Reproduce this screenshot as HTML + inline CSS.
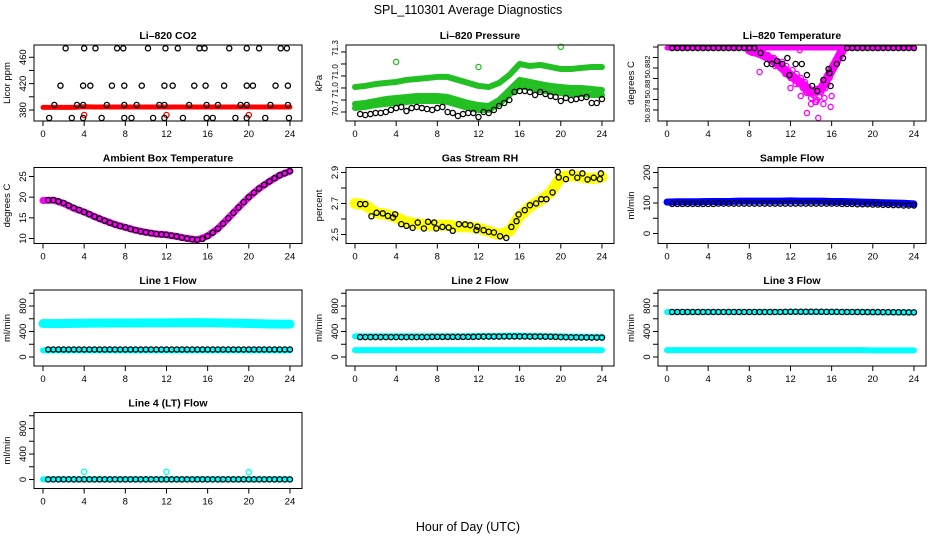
<!DOCTYPE html>
<html><head><meta charset="utf-8"><style>
html,body{margin:0;padding:0;background:#fff}
svg{display:block;font-family:"Liberation Sans",Arial,sans-serif}
</style></head><body>
<svg id="chart" width="936" height="540" viewBox="0 0 936 540" xmlns="http://www.w3.org/2000/svg">
<rect width="936" height="540" fill="#fff"/>
<text x="468" y="14" text-anchor="middle" font-size="12.5">SPL_110301  Average Diagnostics</text>
<text x="468" y="531" text-anchor="middle" font-size="12.5">Hour of Day (UTC)</text>
</svg>
<script>
// ---- shared x positions ----
const HOURS = [0,1,2,3,4,5,6,7,8,9,10,11,12,13,14,15,16,17,18,19,20,21,22,23,24];
const HH = [0.5,1,1.5,2,2.5,3,3.5,4,4.5,5,5.5,6,6.5,7,7.5,8,8.5,9,9.5,10,10.5,11,11.5,12,12.5,13,13.5,14,14.5,15,15.5,16,16.5,17,17.5,18,18.5,19,19.5,20,20.5,21,21.5,22,22.5,23,23.5,24];
const xTicks = [0,4,8,12,16,20,24];
const OUT_X = [4,12,20];

// ---- Li-820 CO2 ----
const co2BlackX = [2.2,4.0,5.1,7.2,7.8,10.2,11.9,13.1,15.2,15.7,18.1,19.8,21.0,23.1,23.7, 1.7,3.9,4.6,6.7,7.9,9.6,11.8,12.6,14.7,15.8,17.6,19.8,20.4,22.6,23.8, 1.1,3.3,3.9,6.2,7.9,9.1,11.3,11.8,14.2,15.9,17.0,19.2,19.8,22.1,23.8, 0.6,2.8,3.9,5.7,7.9,8.6,10.7,11.8,13.6,15.9,16.5,18.7,19.8,21.6,23.9];
const co2BlackY = [473.6,473.6,473.6,473.6,473.6,473.6,473.6,473.6,473.6,473.6,473.6,473.6,473.6,473.6,473.6, 416.9,416.9,416.9,416.9,416.9,416.9,416.9,416.9,416.9,416.9,416.9,416.9,416.9,416.9,416.9, 387.6,387.6,387.6,387.6,387.6,387.6,387.6,387.6,387.6,387.6,387.6,387.6,387.6,387.6,387.6, 367.9,367.9,367.9,367.9,367.9,367.9,367.9,367.9,367.9,367.9,367.9,367.9,367.9,367.9,367.9];
const co2Red = [384,384,384,384,385,384.5,384.5,384.5,384.5,384.5,384.5,384.5,384.5,384.5,384.5,384.5,384.5,384.5,384.5,384.5,384.5,384.5,384.5,384.5,384.5];
const co2RedOut = [372.4,372.4,372.4];

// ---- Li-820 Pressure ----
const presTop = [70.908,70.917,70.933,70.942,70.950,70.967,70.975,70.983,70.992,70.992,70.967,70.942,70.917,70.908,70.942,71.008,71.100,71.083,71.092,71.075,71.058,71.058,71.067,71.075,71.075];
const presMid = [70.767,70.775,70.792,70.808,70.817,70.825,70.833,70.833,70.833,70.825,70.800,70.775,70.758,70.750,70.800,70.883,70.967,70.950,70.933,70.917,70.908,70.900,70.900,70.892,70.883];
const presLow = [70.733,70.742,70.758,70.767,70.775,70.783,70.792,70.792,70.792,70.783,70.758,70.733,70.717,70.717,70.767,70.842,70.917,70.900,70.883,70.867,70.858,70.850,70.850,70.842,70.842];
const presBlack = [70.683,70.675,70.683,70.692,70.692,70.700,70.717,70.733,70.742,70.708,70.733,70.742,70.733,70.725,70.717,70.733,70.742,70.700,70.692,70.667,70.683,70.692,70.692,70.658,70.700,70.692,70.717,70.750,70.775,70.800,70.867,70.875,70.875,70.867,70.842,70.867,70.850,70.833,70.825,70.792,70.817,70.800,70.808,70.817,70.825,70.775,70.775,70.808];
const presOut = [71.117,71.075,71.242];

// ---- Li-820 Temperature ----
const tempMagBase = [50.8839,50.8839,50.8839,50.8839,50.8839,50.8839,50.8839,50.8839,50.8839,50.8839,50.8839,50.8839,50.8839,50.8839,50.8839,50.8839,50.8839,50.8839,50.8839,50.8839,50.8839,50.8839,50.8839,50.8839,50.8839];
const tempDipX = [8,9,10,11,12,13,14,15,16,17];
const tempDipY = [50.8837,50.8834,50.8829,50.8822,50.8813,50.8806,50.8797,50.8800,50.8818,50.8836];
const tempMagX = [8.3,8.6,9.0,9.3,9.6,9.8,10.0,10.2,10.4,10.6,10.8,11.0,11.2,11.4,11.6,11.8,12.0,12.2,12.4,12.6,12.8,13.0,13.2,13.4,13.6,13.8,14.0,14.2,14.4,14.6,14.8,15.0,15.2,15.4,15.6,15.8,16.0,16.2,16.4,16.6,16.8,17.0,17.2, 9.0,13.6,14.7,15.9,16.0,12.9, 10.5,11.5,12.5,13.5,14.5,15.3,12.0,13.0,14.0];
const tempMagY = [50.88343,50.88352,50.88324,50.88352,50.88305,50.88324,50.88295,50.88276,50.88295,50.88257,50.88228,50.882,50.88257,50.88181,50.88219,50.88162,50.88105,50.88181,50.88086,50.88143,50.88048,50.88105,50.88009,50.88067,50.87962,50.88009,50.87914,50.87943,50.87876,50.87895,50.87924,50.87971,50.87857,50.88009,50.88048,50.88105,50.88162,50.88219,50.88257,50.88295,50.88324,50.88352,50.88371, 50.88162,50.87771,50.87724,50.87829,50.87933,50.88371, 50.88219,50.88143,50.88048,50.87971,50.87876,50.87914,50.88009,50.87933,50.87857];
const tempBlackX = [0.5,1,1.5,2,2.5,3,3.5,4,4.5,5,5.5,6,6.5,7,7.5,8,8.5,9.1,9.7,10.2,10.7,11.2,11.7,11.9,12.5,13.1,13.6,14.1,14.6,15.2,15.7,15.8,15.9,16.5,17.1,17.5,18,18.5,19,19.5,20,20.5,21,21.5,22,22.5,23,23.5,24];
const tempBlackY = [50.8839,50.8839,50.8839,50.8839,50.8839,50.8839,50.8839,50.8839,50.8839,50.8839,50.8839,50.8839,50.8839,50.8839,50.8839,50.8839,50.8839,50.88343,50.88238,50.88238,50.88267,50.88238,50.88295,50.88133,50.88238,50.88238,50.88133,50.88029,50.87981,50.88086,50.8819,50.88152,50.88029,50.88238,50.88295,50.8839,50.8839,50.8839,50.8839,50.8839,50.8839,50.8839,50.8839,50.8839,50.8839,50.8839,50.8839,50.8839,50.8839];

// ---- Ambient Box Temperature ----
const ambMag = [19.2,19.3,18.5,17.3,16.4,15.3,14.3,13.4,12.7,12.0,11.5,11.1,10.9,10.5,10.0,9.7,10.6,12.4,14.9,17.5,20.0,22.1,23.8,25.3,26.3];
const ambBlack = [19.3,19.3,19.0,18.6,18.0,17.4,16.9,16.4,15.9,15.3,14.8,14.3,13.8,13.4,13.0,12.7,12.3,12.0,11.7,11.5,11.3,11.1,11.0,10.9,10.7,10.5,10.2,10.0,9.8,9.7,9.9,10.6,11.4,12.4,13.6,14.9,16.2,17.5,18.8,20.0,21.1,22.1,23.0,23.8,24.6,25.3,25.8,26.3];

// ---- Gas Stream RH ----
const rhYellow = [2.70,2.69,2.64,2.63,2.61,2.58,2.57,2.56,2.56,2.56,2.55,2.55,2.54,2.52,2.50,2.52,2.62,2.68,2.72,2.77,2.87,2.88,2.87,2.86,2.87];
const rhBlackX = [0.5,1,1.6,2.1,2.7,3.2,3.7,3.9,4.5,5,5.6,6.1,6.7,7.1,7.7,7.9,8.5,9.1,9.5,10.1,10.7,11.2,11.8,11.9,12.5,13,13.5,14.1,14.7,15.2,15.7,15.9,16.5,17,17.6,18.1,18.6,19.2,19.7,19.8,20.5,21.1,21.6,22.1,22.6,23.2,23.8,23.9];
const rhBlackY = [2.696,2.696,2.618,2.64,2.636,2.62,2.61,2.63,2.567,2.556,2.543,2.577,2.539,2.582,2.577,2.539,2.549,2.545,2.524,2.567,2.565,2.56,2.528,2.55,2.528,2.517,2.513,2.489,2.478,2.549,2.586,2.629,2.657,2.689,2.7,2.728,2.728,2.771,2.904,2.868,2.857,2.9,2.866,2.894,2.855,2.866,2.857,2.894];

// ---- Sample Flow ----
const sfBlue = [103,104,104,104,105,105,105,106,106,106,106,106,107,106,106,106,105,105,104,103,102,101,100,99,97];
const sfBlack = [97,97,97,97,97,97,97,97,97,98,98,98,98,98,98,98,98,98,98,98,98,98,98,98,98,98,98,98,98,98,98,98,98,97,97,97,96,96,96,95,95,94,94,93,93,92,92,92];

// ---- Line flows ----
const l1CyanHigh = [525,523,525,527,530,531,532,533,533,534,535,535,536,537,538,540,538,535,532,530,526,522,518,515,515];
const l1CyanLow = [105,105,105,105,105,105,105,105,105,105,105,105,105,105,105,105,105,105,105,105,105,105,105,105,105];
const l1Black = [118,118,118,118,118,118,118,118,118,118,118,118,118,118,118,118,118,118,118,118,118,118,118,118,118,118,118,118,118,118,118,118,118,118,118,118,118,118,118,118,118,118,118,118,118,118,118,118];
const l2CyanHigh = [325,325,325,325,325,325,325,325,325,325,325,325,330,330,330,335,335,330,330,325,325,320,320,318,318];
const l2CyanLow = [108,108,108,108,108,108,108,108,108,108,108,108,108,108,108,108,108,108,108,108,108,108,108,108,108];
const l2Black = [312,312,312,312,312,312,312,312,312,312,312,312,312,312,315,315,315,315,315,315,315,315,315,318,320,320,320,320,322,322,322,322,322,320,320,320,318,318,315,312,310,308,308,306,306,305,305,305];
const l3CyanHigh = [705,705,705,705,705,705,705,705,705,705,705,705,705,705,705,705,705,705,705,705,700,700,698,698,698];
const l3CyanLow = [108,108,108,108,108,108,108,108,108,108,108,108,108,108,108,108,108,108,108,108,105,105,105,105,105];
const l3Black = [706,706,706,706,706,706,706,706,706,706,706,706,706,706,706,706,706,706,706,706,706,706,708,710,710,710,710,710,710,710,708,708,708,706,706,706,706,705,705,705,705,704,704,703,702,702,701,700];
const l4CyanLow = [2,2,2,2,2,2,2,2,2,2,2,2,2,2,2,2,2,2,2,2,2,2,2,2,2];
const l4Black = [2,2,2,2,2,2,2,2,2,2,2,2,2,2,2,2,2,2,2,2,2,2,2,2,2,2,2,2,2,2,2,2,2,2,2,2,2,2,2,2,2,2,2,2,2,2,2,2];
const l4CyanOut = [120,120,115];

const NS = 'http://www.w3.org/2000/svg';
const svg = document.getElementById('chart');
function mk(tag, attrs, parent){const e=document.createElementNS(NS,tag);for(const k in attrs)e.setAttribute(k,attrs[k]);(parent||svg).appendChild(e);return e;}

function makePanel(c, r, title, ylab, ylim, yticks, ylabVals, ylabTxt, slug, yfs){
  const left = 312*c + 34, right = 312*c + 302;
  const top = 45 + 122.5*r, bottom = top + 76;
  const g = mk('g', {});
  
  
  const xs = h => left + 9 + h*10.29;
  const ys = v => bottom - (v - ylim[0])/(ylim[1]-ylim[0])*(bottom-top);
  const t = mk('text', {x:(left+right)/2, y:top-6, 'text-anchor':'middle', 'font-size':10.5, 'font-weight':'bold'}, g);
  t.textContent = title;
  
  
  const yt = mk('text', {x:0, y:0, 'text-anchor':'middle', 'font-size':9.5, transform:`translate(${312*c+10},${(top+bottom)/2}) rotate(-90)`}, g);
  yt.textContent = ylab;
  
  
  const xa = mk('g', {stroke:'#000', 'stroke-width':1}, g);
  
  
  mk('line', {x1:xs(0), x2:xs(24), y1:bottom, y2:bottom}, xa);
  xTicks.forEach(h => {
    mk('line', {x1:xs(h), x2:xs(h), y1:bottom, y2:bottom+5}, xa);
    const l = mk('text', {x:xs(h), y:bottom+16, 'text-anchor':'middle', 'font-size':9.5, stroke:'none', fill:'#000'}, xa);
    l.textContent = h;
    
    
  });
  const ya = mk('g', {stroke:'#000', 'stroke-width':1}, g);
  
  
  mk('line', {x1:left, x2:left, y1:ys(yticks[0]), y2:ys(yticks[yticks.length-1])}, ya);
  yticks.forEach(v => mk('line', {x1:left-5, x2:left, y1:ys(v), y2:ys(v)}, ya));
  ylabVals.forEach((v,i) => {
    const l = mk('text', {x:0, y:0, 'text-anchor':'middle', 'font-size':yfs||9.5, stroke:'none', fill:'#000', transform:`translate(${left-8},${ys(v)}) rotate(-90)`}, ya);
    l.textContent = ylabTxt[i];
    
    
  });
  const data = mk('g', {}, g);
  
  
  const box = mk('rect', {x:left, y:top, width:right-left, height:bottom-top, fill:'none', stroke:'#000', 'stroke-width':1}, g);
  
  
  return {
    band(xv, yv, color, w, name){
      const p = mk('polyline', {points: xv.map((h,i)=>xs(h)+','+ys(yv[i])).join(' '), fill:'none', stroke:color, 'stroke-width':w, 'stroke-linejoin':'round', 'stroke-linecap':'round'}, data);
      
      
    },
    pts(xv, yv, color, name){
      const pg = mk('g', {fill:'none', stroke:color, 'stroke-width':1.3}, data);
      
      
      xv.forEach((h,i) => {
        const cc = mk('circle', {cx:xs(h), cy:ys(yv[i]), r:2.6}, pg);
        
        
      });
    }
  };
}

const RED='#ff0000', GREEN='#22c022', MAG='#ff00ff', YEL='#ffff00', BLUE='#0000ff', CYAN='#00ffff', BLK='#000';

let p = makePanel(0,0,'Li\u2013820 CO2','Licor ppm',[363.3,478.6],[380,400,420,440,460],[380,420,460],['380','420','460'],'co2');
p.band(HOURS, co2Red, RED, 5, 'co2-red-series');
p.pts(OUT_X, co2RedOut, RED, 'co2-red-outliers');
p.pts(co2BlackX, co2BlackY, BLK, 'co2-black-series');

p = makePanel(1,0,'Li\u2013820 Pressure','kPa',[70.625,71.258],[70.7,70.8,70.9,71.0,71.1,71.2],[70.733,70.883,71.033,71.233],['70.7','71.0','71.0','71.3'],'pressure',8);
p.band(HOURS, presTop, GREEN, 6, 'pressure-green-upper');
p.band(HOURS, presMid, GREEN, 6, 'pressure-green-middle');
p.band(HOURS, presLow, GREEN, 6, 'pressure-green-lower');
p.pts(OUT_X, presOut, GREEN, 'pressure-green-outliers');
p.pts(HH, presBlack, BLK, 'pressure-black-series');

p = makePanel(2,0,'Li\u2013820 Temperature','degrees C',[50.87695,50.88419],[50.878,50.879,50.880,50.881,50.882,50.883,50.884],[50.8779,50.8800,50.8821],['50.878','50.88','50.882'],'li820-temp',7.5);
p.band(HOURS, tempMagBase, MAG, 5, 'temp-magenta-base');
p.band(tempDipX, tempDipY, MAG, 9, 'temp-magenta-dip');
p.pts(tempMagX, tempMagY, MAG, 'temp-magenta-series');
p.pts(tempBlackX, tempBlackY, BLK, 'temp-black-series');

p = makePanel(0,1,'Ambient Box Temperature','degrees C',[8.79,27.18],[10,15,20,25],[10,15,20,25],['10','15','20','25'],'ambient');
p.band(HOURS, ambMag, MAG, 7, 'ambient-magenta-series');
p.pts(HH, ambBlack, BLK, 'ambient-black-series');

p = makePanel(1,1,'Gas Stream RH','percent',[2.442,2.932],[2.5,2.6,2.7,2.8,2.9],[2.5,2.7,2.9],['2.5','2.7','2.9'],'rh');
p.band(HOURS, rhYellow, YEL, 11, 'rh-yellow-series');
p.pts(rhBlackX, rhBlackY, BLK, 'rh-black-series');

p = makePanel(2,1,'Sample Flow','ml/min',[-32.8,216.4],[0,50,100,150,200],[0,100,200],['0','100','200'],'sample-flow');
p.band(HOURS, sfBlue, BLUE, 7, 'sample-blue-series');
p.pts(HH, sfBlack, BLK, 'sample-black-series');

const FL = [-141,1051], FT = [0,200,400,600,800,1000], FLV = [0,400,800], FLT = ['0','400','800'];
p = makePanel(0,2,'Line 1 Flow','ml/min',FL,FT,FLV,FLT,'line1');
p.band(HOURS, l1CyanHigh, CYAN, 9, 'line1-cyan-high');
p.band(HOURS, l1CyanLow, CYAN, 6, 'line1-cyan-low');
p.pts(HH, l1Black, BLK, 'line1-black-series');

p = makePanel(1,2,'Line 2 Flow','ml/min',FL,FT,FLV,FLT,'line2');
p.band(HOURS, l2CyanHigh, CYAN, 6, 'line2-cyan-high');
p.band(HOURS, l2CyanLow, CYAN, 6, 'line2-cyan-low');
p.pts(HH, l2Black, BLK, 'line2-black-series');

p = makePanel(2,2,'Line 3 Flow','ml/min',FL,FT,FLV,FLT,'line3');
p.band(HOURS, l3CyanHigh, CYAN, 6, 'line3-cyan-high');
p.band(HOURS, l3CyanLow, CYAN, 6, 'line3-cyan-low');
p.pts(HH, l3Black, BLK, 'line3-black-series');

p = makePanel(0,3,'Line 4 (LT) Flow','ml/min',FL,FT,FLV,FLT,'line4');
p.band(HOURS, l4CyanLow, CYAN, 6, 'line4-cyan-low');
p.pts(OUT_X, l4CyanOut, CYAN, 'line4-cyan-outliers');
p.pts(HH, l4Black, BLK, 'line4-black-series');
</script>
</body></html>
